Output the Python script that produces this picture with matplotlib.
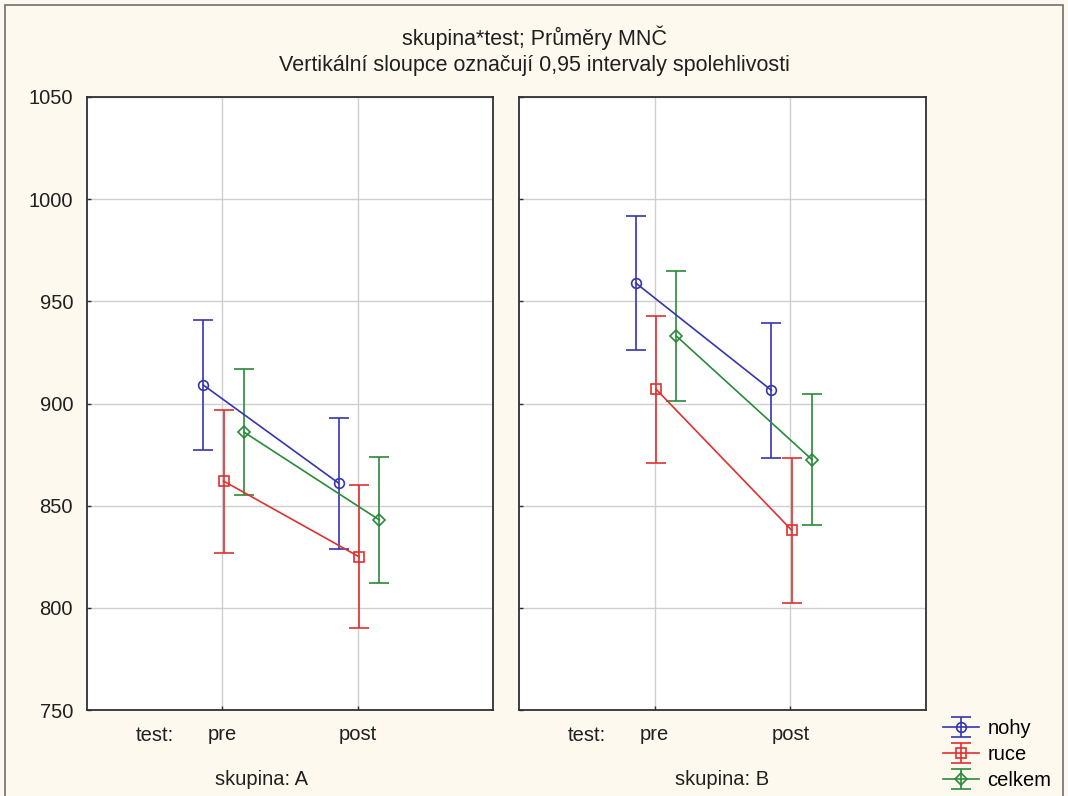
import matplotlib
matplotlib.use("Agg")
import matplotlib.pyplot as plt
from matplotlib.patches import Rectangle

plt.rcParams['font.family'] = ['Liberation Sans', 'DejaVu Sans']

# ---- data ----
groups = ["A", "B"]
tests = ["pre", "post"]
series = ["nohy", "ruce", "celkem"]
colors = {"nohy": "#3535b0", "ruce": "#e03030", "celkem": "#2a8a3a"}
markers = {"nohy": "o", "ruce": "s", "celkem": "D"}

means_A = {"nohy": [909, 861], "ruce": [862, 825], "celkem": [886, 843]}
ci_A = {"nohy": [32, 32], "ruce": [35, 35], "celkem": [31, 31]}
means_B = {"nohy": [959, 906.5], "ruce": [907, 838], "celkem": [933, 872.5]}
ci_B = {"nohy": [33, 33], "ruce": [36, 35.5], "celkem": [32, 32]}

offsets = {"nohy": -0.14, "ruce": 0.01, "celkem": 0.16}
yticks = [750, 800, 850, 900, 950, 1000, 1050]

bg = "#fdf9ee"
W, H = 1068, 796
fig = plt.figure(figsize=(W / 100, H / 100), dpi=100, facecolor=bg)

fig.patches.append(Rectangle((5 / W, -0.05), 1058 / W, 1 - 5 / H + 0.05,
                             transform=fig.transFigure, fill=False,
                             edgecolor="#707070", linewidth=1.2))

fig.text(0.5, 1 - 38 / H, "skupina*test; Průměry MNČ", ha="center", va="center",
         fontsize=15.5, color="#202020")
fig.text(0.5, 1 - 66 / H, "Vertikální sloupce označují 0,95 intervaly spolehlivosti",
         ha="center", va="center", fontsize=15.5, color="#202020")

bottom = 1 - 710 / H
height = (710 - 97) / H
ax_specs = [((87 / W), 406 / W), ((519 / W), 407 / W)]
data = [(means_A, ci_A), (means_B, ci_B)]
label_x = [1.29, 1.5]

handles = []
for i, ((x0, w), (m, c)) in enumerate(zip(ax_specs, data)):
    ax = fig.add_axes([x0, bottom, w, height])
    ax.set_facecolor("white")
    ax.set_xlim(0, 3)
    ax.set_ylim(750, 1050)
    ax.set_yticks(yticks)
    ax.set_xticks([1, 2])
    ax.set_xticklabels(tests, fontsize=14.5, color="#202020")
    ax.grid(True, color="#cfcfcf", linewidth=1)
    ax.set_axisbelow(True)
    ax.tick_params(direction="in", length=3, width=1, color="#303030")
    ax.tick_params(axis="x", pad=11)
    ax.tick_params(axis="y", pad=10, labelsize=14.5, labelcolor="#202020")
    if i == 1:
        ax.set_yticklabels([])
    for sp in ax.spines.values():
        sp.set_color("#303030")
        sp.set_linewidth(1.3)
    for s in series:
        xs = [1 + offsets[s], 2 + offsets[s]]
        eb = ax.errorbar(xs, m[s], yerr=c[s], color=colors[s], marker=markers[s],
                         markersize=7 if s != "celkem" else 6.5,
                         markerfacecolor="none", markeredgewidth=1.2,
                         linewidth=1.2, elinewidth=1.2, capsize=7, capthick=1.2,
                         label=s)
        if i == 0:
            handles.append(eb)
    ax.text(0.5, -0.026, "test:", transform=ax.get_xaxis_transform(),
            ha="center", va="top", fontsize=14.5, color="#202020")
    ax.text(label_x[i], -0.098, "skupina: " + groups[i],
            transform=ax.get_xaxis_transform(),
            ha="center", va="top", fontsize=14.5, color="#202020")

fig.legend(handles=handles, labels=series, loc="lower left",
           bbox_to_anchor=(929 / W, -8 / H), frameon=False, fontsize=14.5,
           handlelength=1.8, handletextpad=0.4, labelspacing=0.35,
           borderpad=0.2)

fig.savefig("out.png", dpi=100, facecolor=bg)
